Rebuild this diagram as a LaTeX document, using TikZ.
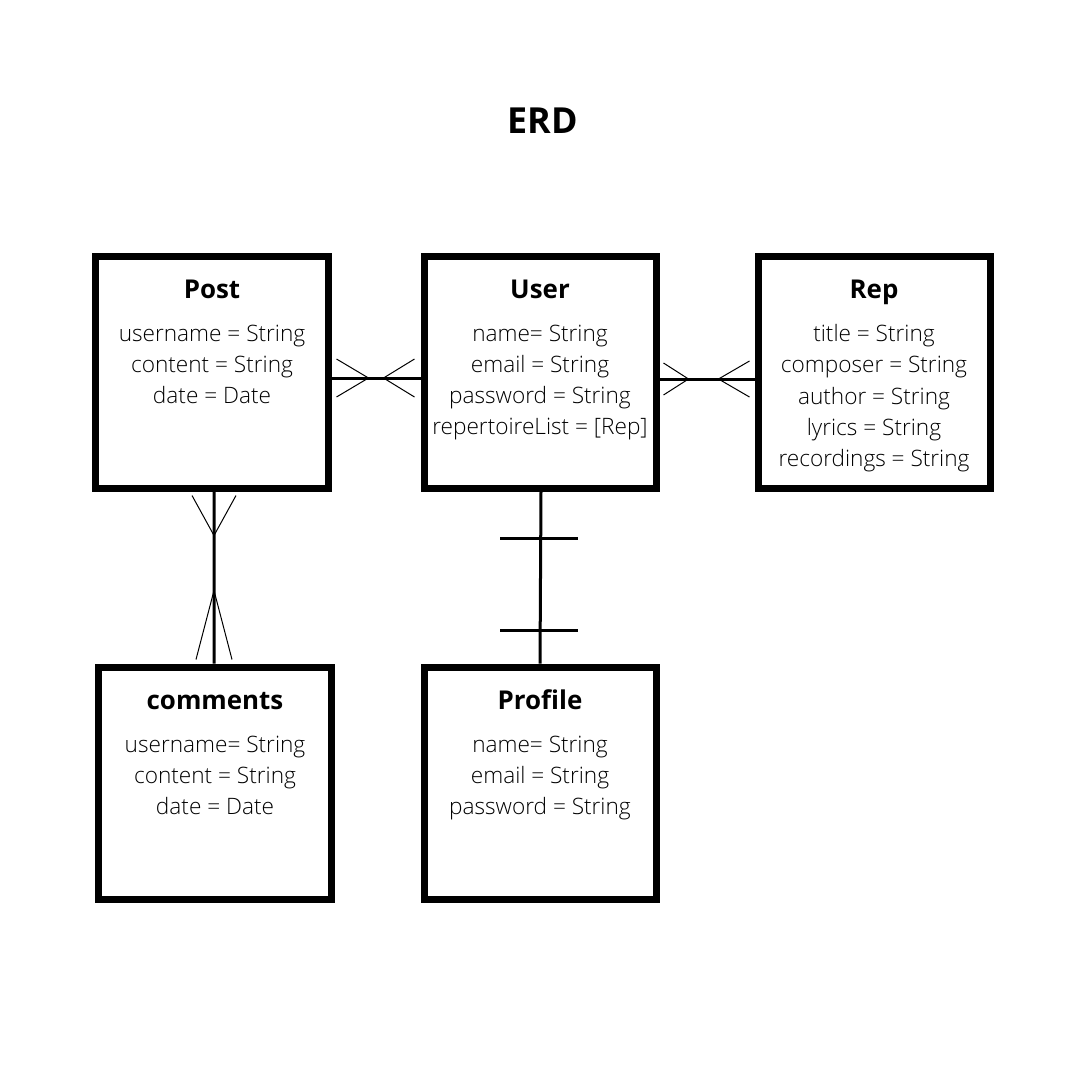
\documentclass[tikz,border=0pt]{standalone}
\usepackage{fontspec}
\setmainfont{Open Sans}
\newfontfamily\lightfont{Open Sans Light}
\usetikzlibrary{positioning,calc}

\tikzset{
  entity/.style={draw,line width=7bp,minimum width=232bp,minimum height=232bp,inner sep=0pt},
  etitle/.style={font=\bfseries\fontsize{26}{30}\selectfont,anchor=base},
  attrs/.style={font=\lightfont\fontsize{22.7}{31.2}\selectfont,align=center,inner sep=0pt,anchor=north},
  link/.style={line width=3bp},
  foot/.style={line width=1bp},
}

\begin{document}
\begin{tikzpicture}[x=1bp,y=-1bp]
    \fill[white] (0,0) rectangle (1080,1080);
    \useasboundingbox (0,0) rectangle (1080,1080);
    \node[font=\bfseries\fontsize{36}{40}\selectfont,anchor=base] (erd) at (543,133) {ERD};

    % entities
    \node[entity] (post) at (212,372) {};
    \node[entity] (user) at (540,372) {};
    \node[entity] (rep) at (874,372) {};
    \node[entity] (comments) at (215,783) {};
    \node[entity] (profile) at (540,783) {};

    \node[etitle] (post-t) at ([yshift=-46bp]post.north) {Post};
    \node[attrs] (post-a) at ([yshift=-72bp]post.north) {username = String\\content = String\\date = Date};
    \node[etitle] (user-t) at ([yshift=-46bp]user.north) {User};
    \node[attrs] (user-a) at ([yshift=-72bp]user.north) {name= String\\email = String\\password = String\\repertoireList = [Rep]};
    \node[etitle] (rep-t) at ([yshift=-46bp]rep.north) {Rep};
    \node[attrs] (rep-a) at ([yshift=-72bp]rep.north) {title = String\\composer = String\\author = String\\lyrics = String\\recordings = String};
    \node[etitle] (comments-t) at ([yshift=-46bp]comments.north) {comments};
    \node[attrs] (comments-a) at ([yshift=-72bp]comments.north) {username= String\\content = String\\date = Date};
    \node[etitle] (profile-t) at ([yshift=-46bp]profile.north) {Profile};
    \node[attrs] (profile-a) at ([yshift=-72bp]profile.north) {name= String\\email = String\\password = String};

    % post -- user (many to many)
    \draw[link] ([yshift=-6bp]post.east) -- ([yshift=-6bp]user.west);
    \coordinate (pu-1) at ([xshift=37bp,yshift=-6bp]post.east);
    \coordinate (pu-2) at ([xshift=-37bp,yshift=-6bp]user.west);
    \foreach \s in {1,-1}
    {
    \draw[foot] ([xshift=5bp,yshift=-6bp+\s*19bp]post.east) -- (pu-1);
    \draw[foot] ([xshift=-6bp,yshift=-6bp+\s*19bp]user.west) -- (pu-2);
    }

    % user -- rep (many to many)
    \draw[link] ([yshift=-7bp]user.east) -- ([yshift=-7bp]rep.west);
    \coordinate (ur-1) at ([xshift=29bp,yshift=-7bp]user.east);
    \coordinate (ur-2) at ([xshift=-36bp,yshift=-7bp]rep.west);
    \foreach \s in {1,-1}
    {
    \draw[foot] ([xshift=4bp,yshift=-7bp+\s*16bp]user.east) -- (ur-1);
    \draw[foot] ([xshift=-5bp,yshift=-7bp+\s*18bp]rep.west) -- (ur-2);
    }

    % post -- comments (many to many)
    \draw[link] ([xshift=2bp]post.south) -- ([xshift=-1bp]comments.north);
    \coordinate (pc-1) at ([xshift=2bp,yshift=-44bp]post.south);
    \coordinate (pc-2) at ([xshift=-1bp,yshift=73bp]comments.north);
    \foreach \s in {1,-1}
    {
    \draw[foot] ([xshift=2bp+\s*22bp,yshift=-4bp]post.south) -- (pc-1);
    \draw[foot] ([xshift=-1bp+\s*18bp,yshift=4bp]comments.north) -- (pc-2);
    }

    % user -- profile (one to one)
    \draw[link] ([xshift=1bp]user.south) -- (profile.north);
    \foreach \y in {538,630}
    {
    \draw[link] (500,\y) -- (578,\y);
    }
\end{tikzpicture}
\end{document}
